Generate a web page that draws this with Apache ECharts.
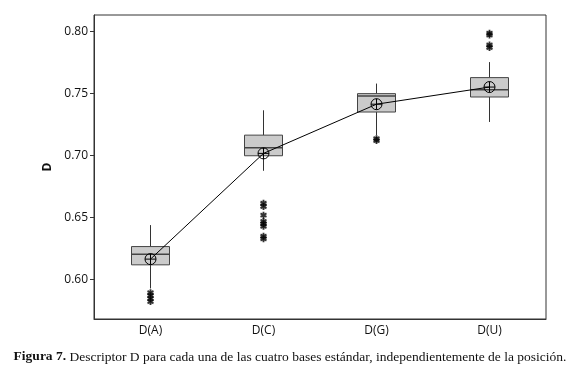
<!DOCTYPE html>
<html>
<head>
<meta charset="utf-8">
<script src="https://cdn.jsdelivr.net/npm/echarts@6/dist/echarts.min.js"></script>
<style>
  html, body { margin: 0; padding: 0; background: #fff; }
  #chart { width: 580px; height: 380px; }
</style>
</head>
<body>
<div id="chart"></div>
<script>
// categorias
var categories = ['D(A)', 'D(C)', 'D(G)', 'D(U)'];
// cajas: [min bigote, Q1, mediana, Q3, max bigote]
var boxes = [
    [0.593, 0.612, 0.6206, 0.6267, 0.644],
    [0.6877, 0.6998, 0.7062, 0.7164, 0.7364],
    [0.7164, 0.735, 0.748, 0.7498, 0.7579],
    [0.727, 0.7471, 0.753, 0.7627, 0.7752]
];
// medias
var means = [0.6166, 0.7017, 0.7413, 0.7551];
// valores atipicos [categoria, valor]
var outliers = [
    [0, 0.5896], [0, 0.5872], [0, 0.5848], [0, 0.5824],
    [1, 0.6615], [1, 0.659], [1, 0.652], [1, 0.647], [1, 0.645], [1, 0.643], [1, 0.635], [1, 0.633],
    [2, 0.7135], [2, 0.712],
    [3, 0.7985], [3, 0.797], [3, 0.789], [3, 0.787]
];
var yTicks = [0.60, 0.65, 0.70, 0.75, 0.80];

var chart = echarts.init(document.getElementById('chart'));

var option = {
    animation: false,
    grid: {
        left: 94, right: 34, top: 15, bottom: 61,
        show: true, borderColor: '#333', borderWidth: 1
    },
    xAxis: {
        type: 'category',
        data: categories,
        axisLine: { lineStyle: { color: '#333' } },
        axisTick: { alignWithLabel: true, length: 4, lineStyle: { color: '#333' } },
        axisLabel: { color: '#111', fontFamily: 'Open Sans', fontSize: 12, margin: 6 }
    },
    yAxis: {
        type: 'value',
        min: 0.5684,
        max: 0.8131,
        name: 'D',
        nameLocation: 'middle',
        nameGap: 40,
        nameTextStyle: { fontWeight: 'bold', fontSize: 12, color: '#111', fontFamily: 'Open Sans' },
        axisLine: { show: true, lineStyle: { color: '#333' } },
        axisTick: { show: true, length: 4, customValues: yTicks, lineStyle: { color: '#333' } },
        axisLabel: {
            customValues: yTicks,
            color: '#111', fontFamily: 'Open Sans', fontSize: 12, margin: 6,
            formatter: function (v) { return v.toFixed(2); }
        },
        splitLine: { show: false }
    },
    series: [
        {
            // cajas y bigotes sin remate
            type: 'custom',
            data: boxes.map(function (b, i) { return [i].concat(b); }),
            renderItem: function (params, api) {
                var i = api.value(0);
                var w = 38;
                var pMin = api.coord([i, api.value(1)]);
                var pQ1 = api.coord([i, api.value(2)]);
                var pMed = api.coord([i, api.value(3)]);
                var pQ3 = api.coord([i, api.value(4)]);
                var pMax = api.coord([i, api.value(5)]);
                var x = pQ1[0];
                var lineStyle = { stroke: '#333', lineWidth: 1 };
                return {
                    type: 'group',
                    children: [
                        { type: 'line', shape: { x1: x, y1: pMin[1], x2: x, y2: pQ1[1] }, style: lineStyle },
                        { type: 'line', shape: { x1: x, y1: pQ3[1], x2: x, y2: pMax[1] }, style: lineStyle },
                        { type: 'rect', shape: { x: x - w / 2, y: pQ3[1], width: w, height: pQ1[1] - pQ3[1] },
                          style: { fill: '#cbcbcb', stroke: '#444', lineWidth: 1 } },
                        { type: 'line', shape: { x1: x - w / 2, y1: pMed[1], x2: x + w / 2, y2: pMed[1] },
                          style: { stroke: '#444', lineWidth: 1.5 } }
                    ]
                };
            },
            z: 2
        },
        {
            // atipicos
            type: 'scatter',
            data: outliers,
            symbol: 'path://M0,-5L0,5M-4.33,-2.5L4.33,2.5M-4.33,2.5L4.33,-2.5',
            symbolSize: [6, 7],
            itemStyle: { color: 'transparent', borderColor: '#000', borderWidth: 2 },
            z: 3
        },
        {
            // medias
            type: 'line',
            data: means,
            symbol: 'path://M0,-10A10,10 0 1,1 0,10A10,10 0 1,1 0,-10ZM-10,0L10,0M0,-10L0,10',
            symbolSize: 11,
            showAllSymbol: true,
            lineStyle: { color: '#000', width: 1 },
            itemStyle: { color: 'transparent', borderColor: '#000', borderWidth: 1 },
            z: 4
        }
    ],
    graphic: [
        {
            type: 'text',
            left: 'center',
            top: 350,
            style: {
                text: '{b|Figura 7.} Descriptor D para cada una de las cuatro bases estándar, independientemente de la posición.',
                font: '13.5px "Liberation Serif"',
                fill: '#111',
                rich: {
                    b: { fontWeight: 'bold', fontFamily: 'Liberation Serif', fontSize: 13.5, fill: '#111' }
                }
            }
        }
    ]
};

chart.setOption(option);
</script>
</body>
</html>
